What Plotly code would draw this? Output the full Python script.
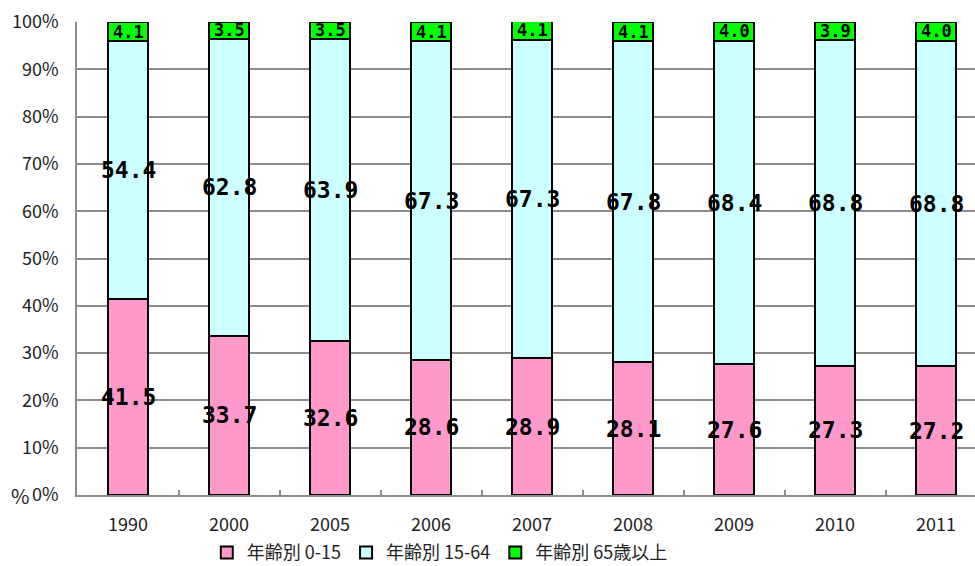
import plotly.graph_objects as go

years = ["1990", "2000", "2005", "2006", "2007", "2008", "2009", "2010", "2011"]
age_0_15 = [41.5, 33.7, 32.6, 28.6, 28.9, 28.1, 27.6, 27.3, 27.2]
age_15_64 = [54.4, 62.8, 63.9, 67.3, 67.3, 67.8, 68.4, 68.8, 68.8]
age_65_up = [4.1, 3.5, 3.5, 4.1, 4.1, 4.1, 4.0, 3.9, 4.0]

series_names = ["年齢別 0-15", "年齢別 15-64", "年齢別 65歳以上"]
series_colors = ["#FF99CC", "#CCFFFF", "#00FF00"]
series_values = [age_0_15, age_15_64, age_65_up]

AX_FONT = "Noto Sans CJK JP, Noto Sans, sans-serif"
LBL_FONT = "DejaVu Sans Mono, monospace"

positions = list(range(len(years)))

fig = go.Figure()
for name, color, vals in zip(series_names, series_colors, series_values):
    fig.add_trace(go.Bar(
        x=positions, y=vals, name=name, width=0.4,
        marker=dict(color=color, line=dict(color="black", width=2)),
        hoverinfo="skip",
    ))

# value labels centred on each segment
annotations = []
for k, vals in enumerate(series_values):
    for i, v in enumerate(vals):
        base = sum(series_values[j][i] for j in range(k))
        annotations.append(dict(
            x=i, y=base + v / 2, xref="x", yref="y",
            text=f"<b>{v:.1f}</b>", showarrow=False,
            font=dict(family=LBL_FONT, size=17 if k == 2 else 23, color="black"),
        ))

annotations.append(dict(
    x=0, y=0, xref="paper", yref="y", xanchor="right", yanchor="middle",
    xshift=-46, text="%", showarrow=False,
    font=dict(family=AX_FONT, size=20, color="#222222"),
))

fig.update_layout(
    barmode="stack",
    width=975, height=566,
    margin=dict(l=77, r=0, t=22, b=71, autoexpand=False),
    plot_bgcolor="white", paper_bgcolor="white",
    showlegend=True,
    legend=dict(
        orientation="h", x=0.404, xanchor="center", y=-0.122, yanchor="middle",
        font=dict(family=AX_FONT, size=18, color="#222222"),
        traceorder="normal", itemwidth=30, borderwidth=0,
    ),
    xaxis=dict(
        range=[-0.505, 8.386],
        tickmode="array", tickvals=positions, ticktext=years,
        showgrid=False, showline=True, linecolor="#8c8c8c", linewidth=1.5,
        zeroline=False,
        ticks="", ticklabelstandoff=13,
        tickfont=dict(family=AX_FONT, size=18, color="#222222"),
        minor=dict(tickmode="array", tickvals=[p + 0.5 for p in positions[:-1]],
                   ticks="inside", ticklen=5, tickcolor="#8c8c8c", tickwidth=1.5,
                   showgrid=False),
    ),
    yaxis=dict(
        range=[0, 100], dtick=10, ticksuffix="%",
        showgrid=True, gridcolor="#8c8c8c", gridwidth=1.5,
        showline=True, linecolor="#8c8c8c", linewidth=1.5,
        zeroline=False, ticks="", ticklabelstandoff=13,
        tickfont=dict(family=AX_FONT, size=18, color="#222222"),
    ),
    annotations=annotations,
)

fig.write_html("out.html")
